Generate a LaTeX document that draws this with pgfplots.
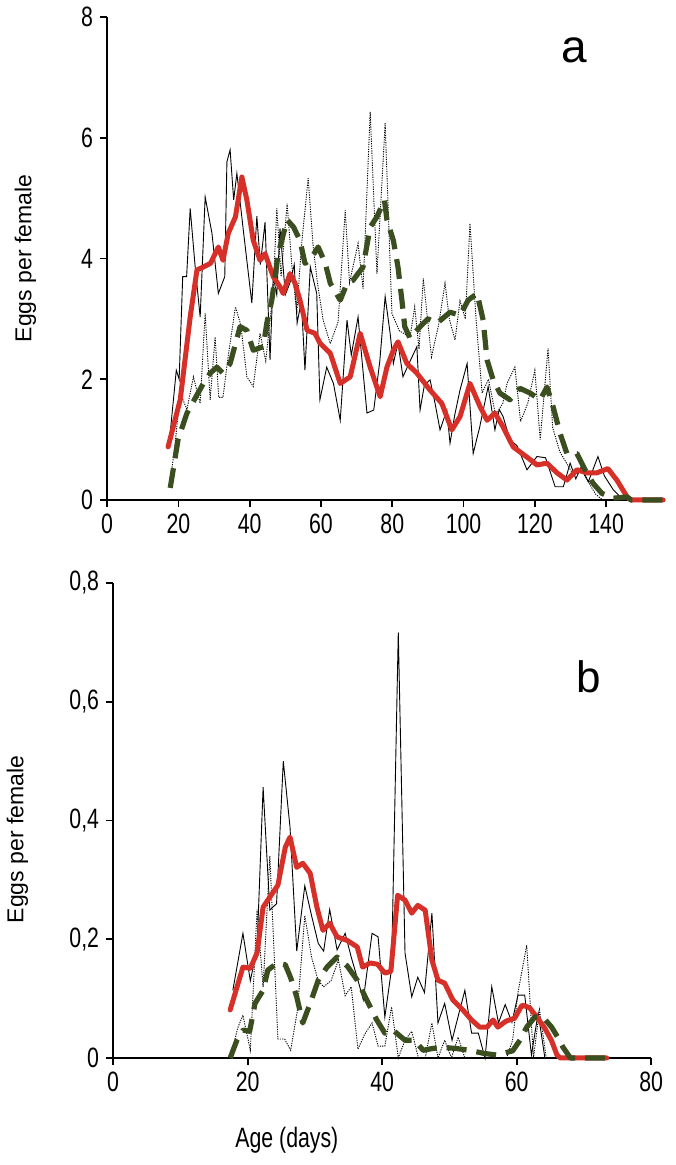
\documentclass[border=0pt]{standalone}
\usepackage{pgfplots}
\pgfplotsset{compat=1.18}
\usepackage{fontspec}
\setmainfont{Liberation Sans}
\newfontfamily\narrowfont{Liberation Sans}[FakeStretch=0.76]
\definecolor{myred}{RGB}{215,48,40}
\definecolor{mygreen}{RGB}{58,78,32}
\pgfplotsset{
  myaxis/.style={
    scale only axis,
    axis x line=bottom, axis y line=left,
    axis line style={-, line width=0.9pt},
    every tick/.style={black, line width=0.9pt},
    tick align=outside, major tick length=3.5pt,
    tick label style={font=\narrowfont\fontsize{14}{16}\selectfont},
    xlabel style={font=\narrowfont\fontsize{14}{16}\selectfont},
    ylabel style={font=\fontsize{11.5}{13}\selectfont},
    /pgf/number format/assume math mode=true,
    clip=false,
  },
  thinsolid/.style={black, line width=0.45pt},
  thindot/.style={black, line width=0.45pt, dash pattern=on 0.6pt off 0.6pt},
  redline/.style={myred, line width=2.5pt, line join=round, line cap=round},
  greenline/.style={mygreen, line width=2.6pt, dash pattern=on 10pt off 5pt, line join=round},
}
\begin{document}
\begin{tikzpicture}
\path (0,0) rectangle (337.5pt,582.5pt);
% ---------------- top panel (a)
\begin{axis}[myaxis,
  at={(53.5pt,332.5pt)}, anchor=south west,
  width=278pt, height=241.5pt,
  xmin=0, xmax=156, ymin=0, ymax=8,
  xtick={0,20,...,140}, ytick={0,2,...,8},
  ylabel={Eggs per female},
  ylabel style={at={(axis description cs:-0.147,0.5)}, anchor=center, rotate=0},
]
\addplot[thinsolid] coordinates {
(17.5,1.0)(18.5,1.6)(19.4,2.15)(20.2,2.0)(21.2,3.7)(22.3,3.7)(23.3,4.83)(24.7,3.86)(26.1,3.03)(27.5,5.02)(29.4,4.42)(31.2,3.42)(33.0,3.7)(33.6,5.6)(34.5,5.8)(35.5,4.97)(36.4,5.41)(38.3,4.42)(40.6,3.26)(42.0,4.7)(43.0,3.9)(44.3,4.6)(45.7,2.32)(46.6,3.7)(47.6,3.4)(48.5,4.5)(50.0,3.4)(51.3,3.6)(52.5,3.9)(53.3,2.93)(54.5,3.3)(55.5,2.15)(57.0,3.86)(58.8,3.42)(59.7,1.66)(61.6,2.2)(63.5,1.93)(65.4,1.32)(67.3,2.98)(68.5,2.4)(70.4,3.03)(72.0,2.0)(72.9,1.44)(74.8,1.49)(76.5,2.3)(78.0,3.37)(79.4,2.76)(80.3,2.26)(81.6,2.6)(83.0,2.04)(85.0,2.3)(86.9,2.54)(87.8,1.49)(89.0,1.9)(90.6,1.99)(92.0,1.6)(93.4,1.16)(95.3,1.49)(96.2,0.94)(97.5,1.4)(99.0,1.82)(101.0,2.26)(102.7,0.77)(104.5,1.2)(106.9,1.88)(108.8,1.16)(110.0,1.5)(111.1,1.38)(113.0,1.0)(115.0,0.9)(117.8,0.5)(120.6,0.72)(123.0,0.7)(125.7,0.22)(128.0,0.22)(129.9,0.61)(131.5,0.35)(133.0,0.55)(135.0,0.3)(137.7,0.72)(139.5,0.4)(142.0,0.17)(144.0,0.05)(146,0)(156,0)
};
\addplot[thindot] coordinates {
(17.7,0.3)(19.0,0.9)(20.5,1.77)(22.4,1.5)(24.2,2.04)(26.1,1.6)(27.5,3.09)(28.9,1.66)(30.3,2.7)(31.3,1.7)(32.5,1.7)(34.0,2.4)(36.0,3.2)(37.5,2.9)(39.2,2.04)(41.0,1.88)(42.9,2.76)(44.5,2.3)(46.6,3.48)(47.6,4.83)(48.8,3.7)(50.5,4.91)(51.8,3.9)(53.2,3.1)(54.5,4.2)(56.4,5.33)(57.8,4.2)(59.0,3.6)(60.6,2.98)(62.6,2.59)(64.8,2.95)(66.8,4.8)(68.0,3.6)(70.4,4.25)(71.8,3.5)(73.8,6.43)(75.7,3.75)(78.0,6.24)(79.9,3.09)(82.0,2.8)(85.0,2.7)(86.3,3.2)(87.5,2.5)(88.7,3.67)(91.0,2.37)(93.0,2.9)(94.8,3.59)(96.0,3.0)(97.6,2.65)(99.0,3.3)(100.5,3.0)(101.8,4.58)(103.5,3.0)(105.2,1.77)(107.0,2.0)(109.0,1.4)(111.0,1.6)(112.2,1.93)(114.4,2.2)(116.0,1.3)(118.0,1.6)(120.0,2.15)(121.5,1.0)(123.7,2.51)(125.0,1.2)(127.0,0.8)(129.0,0.6)(131.0,0.4)(133.0,0.5)(135.0,0.3)(137.0,0.1)(139,0.0)(156,0)
};
\addplot[redline] coordinates {
(17.1,0.88)(20.5,1.66)(23.3,3.03)(25.2,3.81)(27,3.86)(29,3.92)(31.2,4.19)(32.5,3.97)(34,4.42)(36,4.69)(37.8,5.35)(39.2,4.97)(41,4.3)(42.9,3.97)(44.3,4.08)(46.6,3.7)(48.5,3.53)(49.4,3.42)(51.3,3.75)(52.7,3.59)(54.1,3.31)(56.1,2.81)(58.3,2.76)(59.7,2.6)(62.6,2.43)(65.4,1.93)(68.2,2.04)(71,2.76)(73.8,2.2)(76.6,1.71)(78.5,2.2)(80.3,2.48)(81.6,2.62)(84.1,2.26)(86.9,2.1)(90.6,1.82)(93.9,1.6)(96.7,1.16)(99,1.38)(101.8,1.93)(104.6,1.55)(106.6,1.32)(108.8,1.44)(111.1,1.21)(113.9,0.88)(117.8,0.71)(120.6,0.58)(123.4,0.61)(126.2,0.45)(129,0.33)(131.8,0.5)(134.6,0.45)(137.4,0.45)(140.5,0.52)(143,0.33)(145.9,0.05)(147,0)(156,0)
};
\addplot[greenline] coordinates {
(17.7,0.2)(19.9,1.0)(22.4,1.44)(25.2,1.74)(27,1.93)(28.9,2.1)(30.8,2.2)(32.5,2.1)(34.5,2.26)(37.3,2.87)(39.2,2.81)(41,2.48)(43.8,2.54)(44.8,2.93)(46.2,3.31)(48,4.08)(50.5,4.64)(52.3,4.52)(54.1,4.3)(55.5,3.92)(56.9,3.97)(59.2,4.19)(61.2,3.92)(62.6,3.59)(65.4,3.31)(67.3,3.59)(69,3.64)(71.8,3.86)(73.8,4.52)(75.7,4.69)(77.8,4.97)(78.5,4.64)(80.3,4.3)(81.6,3.86)(82.7,3.31)(83.5,2.87)(85,2.68)(87.8,2.87)(90,3.0)(92.6,2.93)(96.2,3.11)(99,3.06)(101.3,3.31)(103.8,3.42)(105.5,2.98)(106.6,2.32)(108.3,1.99)(110.2,1.77)(113,1.66)(115.8,1.85)(118.7,1.77)(121.5,1.66)(123.4,1.87)(125.1,1.55)(127.1,1.1)(129,0.77)(131.8,0.77)(134.1,0.5)(136.3,0.28)(138.8,0.11)(142,0.03)(145.9,0.05)(147,0)(156,0)
};
\node[font=\fontsize{23}{26}\selectfont] at (axis cs:131,7.45) {a};
\end{axis}
% ---------------- bottom panel (b)
\begin{axis}[myaxis,
  at={(56.5pt,53.5pt)}, anchor=south west,
  width=269pt, height=237.5pt,
  xmin=0, xmax=80, ymin=0, ymax=0.8,
  xtick={0,20,...,80}, ytick={0,0.2,...,0.8},
  yticklabel style={/pgf/number format/.cd, use comma, fixed, precision=1},
  ylabel={Eggs per female},
  ylabel style={at={(axis description cs:-0.178,0.46)}, anchor=center, rotate=0},
  xlabel={Age (days)},
  xlabel style={at={(axis description cs:0.323,-0.173)}, anchor=center},
]
\addplot[thinsolid] coordinates {
(17.8,0.114)(19.3,0.21)(20.4,0.13)(21.4,0.185)(22.3,0.456)(23.3,0.249)(24.3,0.26)(25.3,0.50)(26.3,0.389)(27.3,0.18)(28.5,0.29)(29.5,0.24)(30.5,0.193)(31.3,0.18)(32.2,0.25)(33.3,0.182)(34.5,0.21)(35.4,0.17)(36.4,0.131)(37.2,0.098)(38.5,0.21)(39.4,0.204)(40.4,0.069)(41.4,0.15)(42.4,0.717)(43.4,0.177)(44.4,0.103)(45.3,0.136)(46.3,0.11)(47.4,0.244)(48.3,0.059)(49.3,0.092)(50.4,0.03)(51.3,0.07)(52.3,0.114)(53.3,0.042)(54.3,0.042)(55.3,0.0)(56.3,0.12)(57.3,0.059)(58.3,0.09)(59.3,0.06)(60.2,0.106)(61.2,0.106)(62.2,0.005)(63.2,0.076)(64.2,0.0)(73.4,0)
};
\addplot[thindot] coordinates {
(17.5,0.0)(18.5,0.05)(19.3,0.072)(20.4,0.013)(21.4,0.25)(22.3,0.12)(23.3,0.34)(24.5,0.032)(25.5,0.032)(26.4,0.013)(27.4,0.08)(28.5,0.24)(29.5,0.17)(30.5,0.13)(31.3,0.12)(32.4,0.13)(33.5,0.165)(34.5,0.105)(35.4,0.12)(36.4,0.015)(37.4,0.04)(38.5,0.059)(39.4,0.02)(40.4,0.02)(41.4,0.086)(42.4,0.0)(43.4,0.03)(44.4,0.045)(45.4,0.0)(46.4,0.0)(47.4,0.059)(48.3,0.0)(49.3,0.03)(50.3,0.0)(51.3,0.035)(52.3,0.0)(58.5,0.0)(59.4,0.03)(60.2,0.11)(61.5,0.19)(62.5,0.0)(63.4,0.081)(64.4,0.0)(73.4,0)
};
\addplot[redline] coordinates {
(17.4,0.081)(19.3,0.153)(20.4,0.151)(21.4,0.177)(22.3,0.254)(23.3,0.271)(24.5,0.291)(25.6,0.355)(26.3,0.372)(27.3,0.321)(28.2,0.328)(29.3,0.311)(30.3,0.254)(31.2,0.215)(32.2,0.227)(33.3,0.204)(34.8,0.198)(36.3,0.187)(37.1,0.153)(38.2,0.16)(39.3,0.158)(40.4,0.143)(41.3,0.146)(42.3,0.274)(43.4,0.266)(44.4,0.244)(45.3,0.257)(46.4,0.249)(47.4,0.165)(48.3,0.131)(49.3,0.126)(50.5,0.098)(52,0.081)(53.3,0.064)(54.5,0.052)(55.6,0.052)(56.5,0.064)(57.2,0.052)(58.4,0.062)(59.7,0.067)(60.8,0.089)(61.9,0.085)(63,0.069)(64.2,0.05)(65.2,0.029)(66,0.005)(66.5,0)(73.4,0)
};
\addplot[greenline] coordinates {
(17.4,0.0)(18.4,0.03)(19.3,0.047)(20.3,0.045)(21.1,0.092)(22.3,0.114)(23,0.148)(24.4,0.16)(25.6,0.157)(26.4,0.135)(27.3,0.103)(28.2,0.059)(29.3,0.092)(30.5,0.131)(31.8,0.153)(33.3,0.17)(34.8,0.155)(36.3,0.131)(37.7,0.098)(39.2,0.064)(40.4,0.042)(41.6,0.047)(43.4,0.03)(44.8,0.03)(46.1,0.013)(47.5,0.016)(49,0.018)(51,0.016)(53,0.013)(55,0.008)(57,0.005)(59.4,0.012)(60.5,0.03)(61.5,0.052)(62.7,0.069)(63.9,0.069)(65.2,0.052)(66.1,0.035)(66.9,0.018)(68,0.0)(73.4,0)
};
\node[font=\fontsize{22}{26}\selectfont] at (axis cs:70.7,0.642) {b};
\end{axis}
\end{tikzpicture}
\end{document}
